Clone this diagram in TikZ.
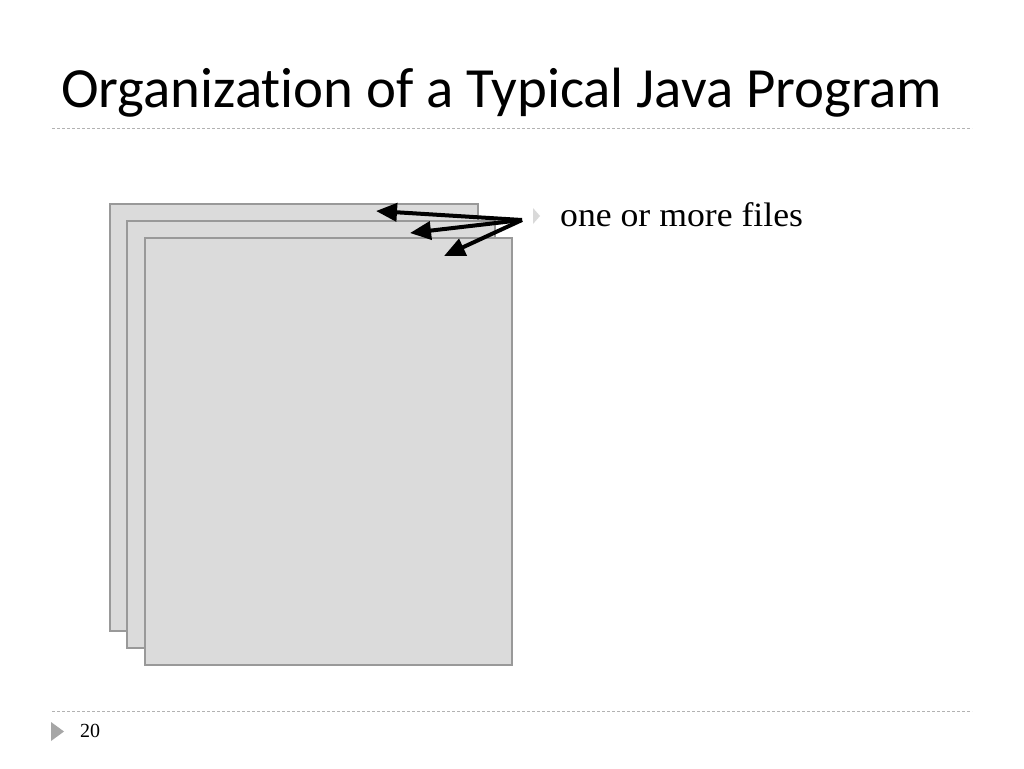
\documentclass[tikz,border=0pt]{standalone}
\usepackage{fontspec}
\setmainfont{Carlito}[Ligatures=NoCommon]
\newfontfamily\seriffont{Liberation Serif}[FakeStretch=1.05]
\newfontfamily\numfont{Liberation Serif}
\usetikzlibrary{arrows.meta}
\begin{document}
\begin{tikzpicture}[x=1pt,y=-1pt,
  sheet/.style={draw=black!40,fill=black!14,line width=1.8pt},
  rule/.style={draw=black!30,dashed,dash pattern=on 3pt off 2pt,line width=0.7pt},
  ptr/.style={-{Triangle[length=21pt,width=18pt]},line width=4pt},
  bul/.style={fill=black!15,draw=none}]
\useasboundingbox (0,0) rectangle (1024,768);
\fill[white] (0,0) rectangle (1024,768);
\node[anchor=base west,inner sep=0pt,font=\fontsize{56.8}{66}\selectfont] (title) at (61,107) {Organization of a Typical Java Program};
\draw[rule] (52,128) -- (972,128);
\draw[rule] (52,711) -- (972,711);
\draw[sheet] (110,204) rectangle (478,631);
\draw[sheet] (127,221) rectangle (495,648);
\draw[sheet] (145,238) rectangle (512,665);
\coordinate (src) at (522,220);
\coordinate (t1) at (376,211);
\coordinate (t2) at (410,233);
\coordinate (t3) at (444,256);
\draw[ptr] (src) -- (t1);
\draw[ptr] (src) -- (t2);
\draw[ptr] (src) -- (t3);
\fill[bul] (533,208) -- (540,216) -- (533,224) -- cycle;
\node[anchor=base west,inner sep=0pt,font=\seriffont\fontsize{34}{40}\selectfont] (files) at (560,226) {one or more files};
\fill[black!35] (51,722) -- (64,731.5) -- (51,741) -- cycle;
\node[anchor=base west,inner sep=0pt,font=\numfont\fontsize{20}{24}\selectfont] (num) at (80,737) {20};
\end{tikzpicture}
\end{document}
